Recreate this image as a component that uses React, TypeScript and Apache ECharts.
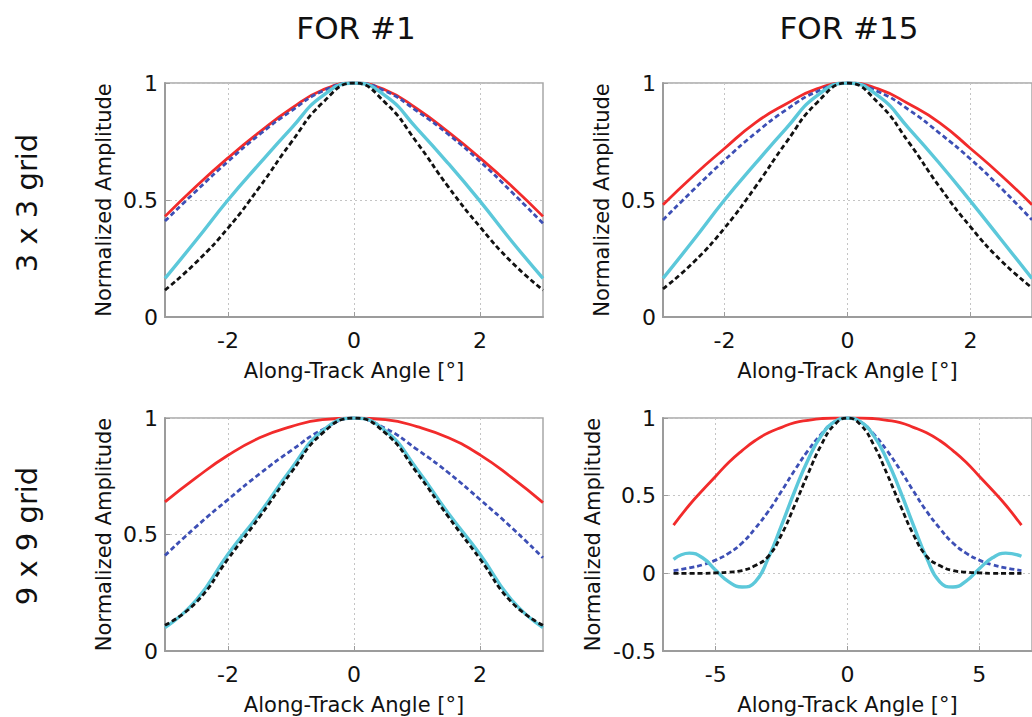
import React, { useEffect, useRef } from "react";
import * as echarts from "echarts";

// ---------- data ----------
const X_TOP = [-3, -2.5, -2, -1.5, -1, -0.5, 0, 0.5, 1, 1.5, 2, 2.5, 3];
const X_BR = [-6.6, -6, -5.5, -5, -4.5, -4, -3.5, -3, -2.5, -2, -1.5, -1, -0.5, 0, 0.5, 1, 1.5, 2, 2.5, 3, 3.5, 4, 4.5, 5, 5.5, 6, 6.6];

// 3 x 3 grid, FOR #1
const TL_RED = [0.43, 0.56, 0.68, 0.79, 0.89, 0.97, 1, 0.97, 0.89, 0.79, 0.68, 0.56, 0.43];
const TL_BLUE = [0.41, 0.54, 0.665, 0.78, 0.88, 0.965, 1, 0.965, 0.88, 0.78, 0.665, 0.535, 0.4];
const TL_CYAN = [0.165, 0.33, 0.5, 0.655, 0.805, 0.945, 1, 0.945, 0.805, 0.655, 0.495, 0.325, 0.165];
const TL_BLACK = [0.115, 0.235, 0.38, 0.555, 0.745, 0.915, 1, 0.915, 0.745, 0.555, 0.385, 0.235, 0.115];

// 3 x 3 grid, FOR #15
const TR_RED = [0.48, 0.605, 0.72, 0.83, 0.91, 0.975, 1, 0.975, 0.91, 0.83, 0.72, 0.605, 0.48];
const TR_BLUE = [0.415, 0.545, 0.67, 0.785, 0.885, 0.963, 1, 0.963, 0.885, 0.785, 0.675, 0.55, 0.415];
const TR_CYAN = [0.165, 0.33, 0.5, 0.655, 0.805, 0.945, 1, 0.945, 0.805, 0.655, 0.495, 0.33, 0.165];
const TR_BLACK = [0.12, 0.235, 0.38, 0.555, 0.745, 0.915, 1, 0.915, 0.745, 0.555, 0.385, 0.24, 0.125];

// 9 x 9 grid, FOR #1
const BL_RED = [0.64, 0.745, 0.84, 0.915, 0.963, 0.993, 1, 0.993, 0.963, 0.915, 0.842, 0.745, 0.637];
const BL_BLUE = [0.41, 0.535, 0.65, 0.76, 0.86, 0.95, 1, 0.955, 0.865, 0.765, 0.65, 0.53, 0.4];
const BL_CYAN = [0.1, 0.22, 0.415, 0.59, 0.78, 0.945, 1, 0.945, 0.78, 0.59, 0.415, 0.22, 0.1];
const BL_BLACK = [0.11, 0.21, 0.395, 0.575, 0.765, 0.935, 1, 0.935, 0.765, 0.575, 0.395, 0.21, 0.11];

// 9 x 9 grid, FOR #15
const BR_RED = [0.31, 0.44, 0.535, 0.625, 0.715, 0.79, 0.855, 0.905, 0.94, 0.97, 0.985, 0.996, 1, 1, 1, 0.996, 0.985, 0.97, 0.94, 0.905, 0.855, 0.79, 0.715, 0.625, 0.535, 0.44, 0.31];
const BR_BLUE = [0.018, 0.035, 0.055, 0.085, 0.13, 0.195, 0.29, 0.4, 0.53, 0.665, 0.79, 0.895, 0.975, 1, 0.975, 0.895, 0.79, 0.665, 0.53, 0.4, 0.29, 0.195, 0.13, 0.085, 0.055, 0.035, 0.018];
const BR_CYAN = [0.09, 0.13, 0.1, 0.02, -0.055, -0.088, -0.055, 0.1, 0.31, 0.53, 0.73, 0.885, 0.975, 1, 0.975, 0.885, 0.73, 0.53, 0.31, 0.1, -0.055, -0.088, -0.05, 0.03, 0.1, 0.13, 0.11];
const BR_BLACK = [0, 0, 0, 0.003, 0.008, 0.018, 0.05, 0.11, 0.25, 0.44, 0.64, 0.825, 0.955, 1, 0.955, 0.825, 0.64, 0.44, 0.25, 0.11, 0.05, 0.018, 0.008, 0.003, 0, 0, 0];

const COL_TITLES = ["FOR #1", "FOR #15"];
const ROW_TITLES = ["3 x 3 grid", "9 x 9 grid"];
const X_TICKS_TOP = [-2, 0, 2];
const X_TICKS_BR = [-5, 0, 5];
const X_NAME = "Along-Track Angle [°]";
const Y_NAME = "Normalized Amplitude";

const FONT = "DejaVu Sans";
const COLORS = { red: "#f22b2b", blue: "#3d4fb5", cyan: "#5cc8da", black: "#111111" };

const GRIDS = [
  { left: 165, top: 83, width: 378, height: 234 },
  { left: 663, top: 83, width: 378, height: 234 },
  { left: 165, top: 418, width: 378, height: 233 },
  { left: 663, top: 418, width: 378, height: 233 },
];

const PANELS = [
  { x: X_TOP, xmin: -3, xmax: 3, ticks: X_TICKS_TOP, ymin: 0, ymax: 1, red: TL_RED, blue: TL_BLUE, cyan: TL_CYAN, black: TL_BLACK, yGap: 51 },
  { x: X_TOP, xmin: -3, xmax: 3, ticks: X_TICKS_TOP, ymin: 0, ymax: 1, red: TR_RED, blue: TR_BLUE, cyan: TR_CYAN, black: TR_BLACK, yGap: 51 },
  { x: X_TOP, xmin: -3, xmax: 3, ticks: X_TICKS_TOP, ymin: 0, ymax: 1, red: BL_RED, blue: BL_BLUE, cyan: BL_CYAN, black: BL_BLACK, yGap: 51 },
  { x: X_BR, xmin: -7, xmax: 7, ticks: X_TICKS_BR, ymin: -0.5, ymax: 1, red: BR_RED, blue: BR_BLUE, cyan: BR_CYAN, black: BR_BLACK, yGap: 60 },
];

const pairs = (xs: number[], ys: number[]) => xs.map((x, i) => [x, ys[i]]);

export default function App() {
  const ref = useRef<HTMLDivElement>(null);
  useEffect(() => {
    if (!ref.current) return;
    const chart = echarts.init(ref.current, null, { renderer: "svg" });
    const axisColor = "#9c9c9c";
    const gridLine = { show: true, lineStyle: { type: [2, 3], color: "#c4c4c4", width: 1 } };
    const labelStyle = { fontSize: 22, color: "#111", fontFamily: FONT };
    const nameStyle = { fontSize: 21, color: "#111", fontFamily: FONT };

    const xAxis = PANELS.map((p, i) => ({
      type: "value",
      gridIndex: i,
      min: p.xmin,
      max: p.xmax,
      axisLine: { show: true, onZero: false, lineStyle: { color: axisColor, width: 2 } },
      axisTick: { show: true, inside: true, length: 5, customValues: p.ticks, lineStyle: { color: axisColor } },
      axisLabel: { ...labelStyle, margin: 12, customValues: p.ticks },
      splitLine: gridLine,
      name: X_NAME,
      nameLocation: "middle",
      nameGap: 43,
      nameTextStyle: nameStyle,
    }));
    const yAxis = PANELS.map((p, i) => ({
      type: "value",
      gridIndex: i,
      min: p.ymin,
      max: p.ymax,
      interval: 0.5,
      axisLine: { show: true, onZero: false, lineStyle: { color: axisColor, width: 2 } },
      axisTick: { show: true, inside: true, length: 5, lineStyle: { color: axisColor } },
      axisLabel: { ...labelStyle, margin: 7 },
      splitLine: gridLine,
      name: Y_NAME,
      nameLocation: "middle",
      nameGap: p.yGap,
      nameTextStyle: nameStyle,
    }));

    const series: any[] = [];
    PANELS.forEach((p, i) => {
      const defs = [
        { data: p.red, color: COLORS.red, width: 2.8, type: "solid" },
        { data: p.blue, color: COLORS.blue, width: 2.8, type: [5, 3] },
        { data: p.cyan, color: COLORS.cyan, width: 3.4, type: "solid" },
        { data: p.black, color: COLORS.black, width: 2.8, type: [5, 3] },
      ];
      defs.forEach((d) => {
        series.push({
          type: "line",
          xAxisIndex: i,
          yAxisIndex: i,
          data: pairs(p.x, d.data as number[]),
          showSymbol: false,
          smooth: 0.5,
          lineStyle: { color: d.color, width: d.width, type: d.type },
        });
      });
    });

    const graphic: any[] = [
      ...COL_TITLES.map((t, i) => ({
        type: "text",
        x: GRIDS[i].left + GRIDS[i].width / 2 + (i === 0 ? 2 : -3),
        y: 28,
        style: { text: t, align: "center", verticalAlign: "middle", fontSize: 31, fontFamily: FONT, fill: "#111" },
      })),
      ...ROW_TITLES.map((t, i) => ({
        type: "text",
        x: 27,
        y: i === 0 ? 203 : 536,
        rotation: Math.PI / 2,
        style: { text: t, align: "center", verticalAlign: "middle", fontSize: 29, fontFamily: FONT, fill: "#111" },
      })),
    ];

    chart.setOption({
      animation: false,
      backgroundColor: "#ffffff",
      grid: GRIDS.map((g) => ({ ...g, show: true, borderColor: "#a8a8a8", borderWidth: 1.5, backgroundColor: "transparent" })),
      xAxis,
      yAxis,
      series,
      graphic,
    });
    return () => chart.dispose();
  }, []);
  return (
    <div
      ref={ref}
      style={{ position: "absolute", left: 0, top: 0, width: 1032, height: 717, background: "#fff", overflow: "hidden" }}
    />
  );
}
